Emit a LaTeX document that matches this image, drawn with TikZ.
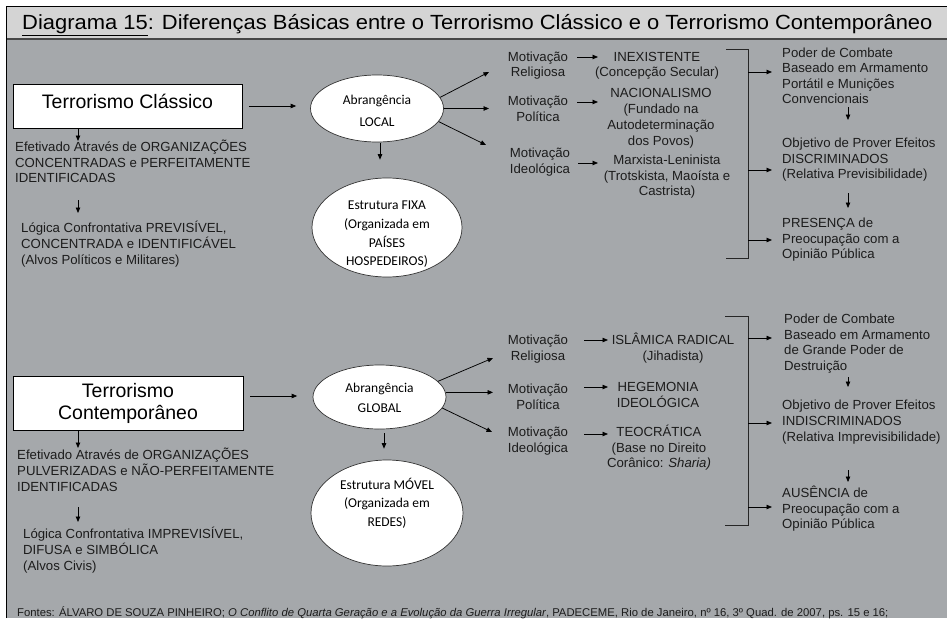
\documentclass[tikz,border=0pt]{standalone}
\usepackage{fontspec}
\setmainfont{Liberation Sans}
\newfontfamily\calib{Carlito}
\usetikzlibrary{arrows.meta,shapes.geometric}
\definecolor{bgmain}{HTML}{A5A8AB}
\definecolor{bghead}{HTML}{D4D4D4}
\definecolor{txtc}{HTML}{1C1C1C}
\newcommand{\tabL}[1]{\begin{tabular}[t]{@{}l@{}}#1\end{tabular}}
\newcommand{\tabC}[1]{\begin{tabular}[t]{@{}c@{}}#1\end{tabular}}
\begin{document}
\begin{tikzpicture}[x=1pt,y=-1pt,
  txt/.style={inner sep=0pt, text=txtc, font=\fontsize{13.2}{15.5}\selectfont},
  ltxt/.style={txt, anchor=base west},
  mtxt/.style={txt, anchor=base},
  arr/.style={-{Triangle[length=5.5pt,width=4.5pt]}, line width=0.75pt, black},
  brk/.style={line width=0.9pt, black!85},
  titlebox/.style={draw=black, line width=0.8pt, fill=white, inner sep=0pt, font=\fontsize{19.5}{22}\selectfont, align=center},
  ell/.style={ellipse, draw=black!80, line width=0.7pt, fill=white, inner sep=0pt},
  etxt/.style={inner sep=0pt, font=\calib\fontsize{13.5}{18.7}\selectfont, align=center}
]
\useasboundingbox (0,0) rectangle (947,618);
% background
\fill[white] (0,0) rectangle (947,618);
\fill[bgmain] (6.5,39) rectangle (947,618);
\fill[bghead] (6.5,6.5) rectangle (947,38);
\draw[line width=2.4pt, black!72] (6.5,39.2) -- (947,39.2);
\draw[line width=1.1pt] (6.5,618) -- (6.5,6.5) -- (947,6.5);
% title
\node[anchor=base west, inner sep=0pt, font=\fontsize{20.5}{22}\selectfont] (title) at (22,30)
  {\scalebox{1.07}[1]{\underline{Diagrama 15}: Diferenças Básicas entre o Terrorismo Clássico e o Terrorismo Contemporâneo}};

% ===== upper half =====
\node[titlebox, minimum width=229, minimum height=44, text height=14pt, text depth=10pt] (tc) at (127.5,106) {Terrorismo Clássico};
\node[ltxt] (efet1) at (15,151.5) {\tabL{Efetivado Através de ORGANIZAÇÕES\\CONCENTRADAS e PERFEITAMENTE\\IDENTIFICADAS}};
\node[ltxt] (log1) at (21,232.5) {\tabL{Lógica Confrontativa PREVISÍVEL,\\CONCENTRADA e IDENTIFICÁVEL\\(Alvos Políticos e Militares)}};
\node[ell, minimum width=133, minimum height=67] (local) at (377,108.5) {};
\node[etxt, font=\calib\fontsize{13.5}{21.5}\selectfont] (localt) at (377,111) {Abrangência\\LOCAL};
\node[ell, minimum width=150, minimum height=99] (fixa) at (387,227.5) {};
\node[etxt] (fixat) at (387,234.5) {Estrutura FIXA\\(Organizada em\\PAÍSES\\HOSPEDEIROS)};

\node[mtxt] (mr1) at (538,61.5) {\tabC{Motivação\\Religiosa}};
\node[mtxt] (mp1) at (538,105.5) {\tabC{Motivação\\Política}};
\node[mtxt] (mi1) at (540,157.5) {\tabC{Motivação\\Ideológica}};
\node[mtxt] (inex) at (657,61.5) {\tabC{INEXISTENTE\\(Concepção Secular)}};
\node[mtxt, font=\fontsize{13.2}{16}\selectfont] (nac) at (661,97.5) {\tabC{NACIONALISMO\\(Fundado na\\Autodeterminação\\dos Povos)}};
\node[mtxt] (marx) at (667,164.5) {\tabC{Marxista-Leninista\\(Trotskista, Maoísta e\\Castrista)}};

\node[ltxt] (poder1) at (782,57.5) {\tabL{Poder de Combate\\Baseado em Armamento\\Portátil e Munições\\Convencionais}};
\node[ltxt] (obj1) at (782,147.5) {\tabL{Objetivo de Prover Efeitos\\DISCRIMINADOS\\(Relativa Previsibilidade)}};
\node[ltxt] (pres1) at (782,227.5) {\tabL{PRESENÇA de\\Preocupação com a\\Opinião Pública}};

\draw[arr] ([xshift=7]tc.east) -- ([xshift=-14]tc.east -| local.west);
\draw[arr] ([xshift=-49.5]tc.south) -- ([xshift=63,yshift=10.5]efet1.base west);
\draw[arr] ([xshift=63,yshift=-48.5]efet1.base west) -- ([xshift=57,yshift=19.5]log1.base west);
\draw[arr] ([xshift=3,yshift=-1]local.south) -- ([xshift=-7,yshift=18]fixa.north);
\draw[arr] (local.10) -- ([xshift=-49,yshift=-10.5]mr1.base);
\draw[arr] (local.east) -- ([xshift=-49]mp1.base |- local.east);
\draw[arr] (local.-12) -- ([xshift=-54,yshift=12.5]mi1.base);
\draw[arr] ([xshift=39,yshift=4.5]mr1.base) -- ([xshift=-59,yshift=4.5]inex.base);
\draw[arr] ([xshift=39,yshift=3.5]mp1.base) -- ([xshift=-63,yshift=-4.5]nac.base);
\draw[arr] ([xshift=38,yshift=-5.5]mi1.base) -- ([xshift=-69,yshift=1.5]marx.base);

\coordinate (b1a) at (726,49);
\coordinate (b1b) at (748,49);
\coordinate (b1c) at (748,258);
\coordinate (b1d) at (726,258);
\draw[brk] (b1a) -- (b1b) -- (b1c) -- (b1d);
\coordinate (t1a) at ([xshift=-10,yshift=-14.5]poder1.base west);
\coordinate (t1b) at ([xshift=-10,yshift=-22.5]obj1.base west);
\coordinate (t1c) at ([xshift=-10,yshift=-12.5]pres1.base west);
\draw[arr] (b1b |- t1a) -- (t1a);
\draw[arr] (b1b |- t1b) -- (t1b);
\draw[arr] (b1b |- t1c) -- (t1c);
\draw[arr] ([xshift=66,yshift=-49.5]poder1.base west) -- ([xshift=66,yshift=27.5]obj1.base west);
\draw[arr] ([xshift=66,yshift=-45.5]obj1.base west) -- ([xshift=66,yshift=19.5]pres1.base west);

% ===== lower half =====
\node[titlebox, minimum width=230, minimum height=54] (tc2) at (128,403) {Terrorismo\\Contemporâneo};
\node[ltxt, font=\fontsize{13.2}{16}\selectfont] (efet2) at (17,459.5) {\tabL{Efetivado Através de ORGANIZAÇÕES\\PULVERIZADAS e NÃO-PERFEITAMENTE\\IDENTIFICADAS}};
\node[ltxt] (log2) at (23,538.5) {\tabL{Lógica Confrontativa IMPREVISÍVEL,\\DIFUSA e SIMBÓLICA\\(Alvos Civis)}};
\node[ell, minimum width=133, minimum height=64] (glob) at (379.5,397) {};
\node[etxt, font=\calib\fontsize{13.5}{20}\selectfont] (globt) at (379.5,398) {Abrangência\\GLOBAL};
\node[ell, minimum width=152, minimum height=106] (movel) at (387,513) {};
\node[etxt] (movelt) at (387,503) {Estrutura MÓVEL\\(Organizada em\\REDES)};

\node[mtxt] (mr2) at (538,344.5) {\tabC{Motivação\\Religiosa}};
\node[mtxt] (mp2) at (538,393.5) {\tabC{Motivação\\Política}};
\node[mtxt] (mi2) at (538,436.5) {\tabC{Motivação\\Ideológica}};
\node[mtxt] (isl) at (673,344.5) {\tabC{ISLÂMICA RADICAL\\(Jihadista)}};
\node[mtxt] (heg) at (658,391.5) {\tabC{HEGEMONIA\\IDEOLÓGICA}};
\node[mtxt] (teo) at (659,436.5) {\tabC{TEOCRÁTICA\\(Base no Direito\\Corânico: \textit{Sharia)}}};

\node[ltxt] (poder2) at (784,323.5) {\tabL{Poder de Combate\\Baseado em Armamento\\de Grande Poder de\\Destruição}};
\node[ltxt, font=\fontsize{13.2}{16}\selectfont] (obj2) at (782,409.5) {\tabL{Objetivo de Prover Efeitos\\INDISCRIMINADOS\\(Relativa Imprevisibilidade)}};
\node[ltxt] (aus2) at (782,497.5) {\tabL{AUSÊNCIA de\\Preocupação com a\\Opinião Pública}};

\draw[arr] ([xshift=7,yshift=7]tc2.east) -- ([xshift=-15.5,yshift=7]tc2.east -| glob.west);
\draw[arr] ([xshift=-50]tc2.south) -- ([xshift=61,yshift=11.5]efet2.base west);
\draw[arr] ([xshift=61,yshift=-47.5]efet2.base west) -- ([xshift=55,yshift=16.5]log2.base west);
\draw[arr] ([xshift=4.5,yshift=-4]glob.south) -- ([xshift=-3,yshift=11]movel.north);
\draw[arr] (glob.15) -- ([xshift=-45,yshift=-13.5]mr2.base);
\draw[arr] (glob.4) -- ([xshift=-45]mp2.base |- glob.4);
\draw[arr] (glob.-10) -- ([xshift=-46,yshift=4.5]mi2.base);
\draw[arr] ([xshift=46,yshift=4.5]mr2.base) -- ([xshift=-65,yshift=4.5]isl.base);
\draw[arr] ([xshift=46,yshift=6.5]mp2.base) -- ([xshift=-50,yshift=4.5]heg.base);
\draw[arr] ([xshift=46,yshift=2.5]mi2.base) -- ([xshift=-51,yshift=2.5]teo.base);

\coordinate (b2a) at (725,316);
\coordinate (b2b) at (748,316);
\coordinate (b2c) at (748,525);
\coordinate (b2d) at (725,525);
\draw[brk] (b2a) -- (b2b) -- (b2c) -- (b2d);
\coordinate (t2a) at ([xshift=-12,yshift=-14.5]poder2.base west);
\coordinate (t2b) at ([xshift=-10,yshift=-13.5]obj2.base west);
\coordinate (t2c) at ([xshift=-10,yshift=-9.5]aus2.base west);
\draw[arr] (b2b |- t2a) -- (t2a);
\draw[arr] (b2b |- t2b) -- (t2b);
\draw[arr] (b2b |- t2c) -- (t2c);
\draw[arr] ([xshift=64,yshift=-53.5]poder2.base west) -- ([xshift=66,yshift=22.5]obj2.base west);
\draw[arr] ([xshift=66,yshift=-60.5]obj2.base west) -- ([xshift=66,yshift=15.5]aus2.base west);

% footer
\node[anchor=base west, inner sep=0pt, text=txtc, font=\fontsize{11.3}{13}\selectfont] (fontes) at (17,616.5)
  {Fontes: ÁLVARO DE SOUZA PINHEIRO; \textit{O Conflito de Quarta Geração e a Evolução da Guerra Irregular}, PADECEME, Rio de Janeiro, nº 16, 3º Quad. de 2007, ps. 15 e 16;};
\end{tikzpicture}
\end{document}
